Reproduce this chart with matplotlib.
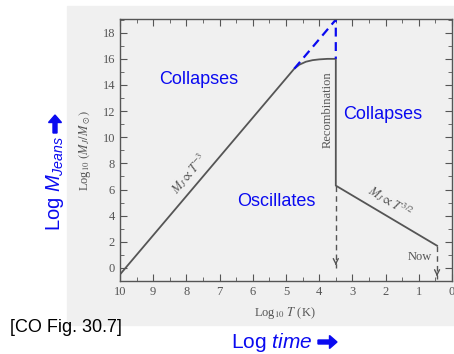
import numpy as np
import matplotlib
matplotlib.use('Agg')
import matplotlib.pyplot as plt
from matplotlib.patches import Rectangle, FancyArrow
from matplotlib.ticker import MultipleLocator

plt.rcParams['mathtext.fontset'] = 'custom'
plt.rcParams['mathtext.rm'] = 'Liberation Sans'
plt.rcParams['mathtext.it'] = 'Liberation Sans:italic'

# curve (log10 T, log10 M_J/M_sun)
curve_T = [10.0, 4.75, 4.6, 4.4, 4.2, 4.0, 3.75, 3.5, 3.5, 0.45]
curve_M = [-0.5, 15.25, 15.55, 15.78, 15.9, 15.96, 16.0, 16.0, 6.3, 1.7]
# blue dashed extension of T^-3 line
ext_T = [4.75, 3.5, 3.5]
ext_M = [15.25, 19.0, 16.0]
# dashed gray arrows (start, end)
rec_T = [3.5, 3.5]
rec_M = [6.3, 0.0]
now_T = [0.45, 0.45]
now_M = [1.7, -0.85]

xticks = [10, 9, 8, 7, 6, 5, 4, 3, 2, 1, 0]
yticks = [0, 2, 4, 6, 8, 10, 12, 14, 16, 18]

gray = '#555555'
blue = '#0a0af0'
serif = 'Liberation Serif'

fig = plt.figure(figsize=(4.54, 3.54), dpi=100)
# scanned page background
bg = Rectangle((67/454, 29/354), 1 - 67/454, 319/354,
               transform=fig.transFigure, color='#f0f0f0', zorder=-5)
fig.add_artist(bg)

ax = fig.add_axes([120/454, 73/354, 332/454, 262/354])
ax.patch.set_alpha(0)
ax.set_zorder(2)

ax.plot(curve_T, curve_M, color=gray, lw=1.3)
ax.plot(ext_T, ext_M, color=blue, lw=1.6, ls=(0, (4, 2.5)))

for tt, mm in [(rec_T, rec_M), (now_T, now_M)]:
    ax.plot(tt, mm, color=gray, lw=1, ls=(0, (4, 3)))
    ax.annotate('', xy=(tt[1], mm[1]), xytext=(tt[1], mm[1] + 0.6),
                arrowprops=dict(arrowstyle='->', color=gray, lw=1, mutation_scale=9))

ax.set_xlim(10, 0)
ax.set_ylim(-1, 19.05)
ax.set_xticks(xticks)
ax.set_yticks(yticks)
ax.xaxis.set_minor_locator(MultipleLocator(0.5))
ax.yaxis.set_minor_locator(MultipleLocator(1))
ax.tick_params(which='both', direction='in', top=True, right=True, color=gray,
               labelcolor=gray, labelsize=9)
ax.tick_params(which='major', length=5)
ax.tick_params(which='minor', length=3)
for lab in ax.get_xticklabels() + ax.get_yticklabels():
    lab.set_fontfamily(serif)
for sp in ax.spines.values():
    sp.set_color(gray)
    sp.set_linewidth(1)

# labels inside the figure
ax.text(3.73, 12.1, 'Recombination', rotation=90, ha='center', va='center',
        color=gray, fontsize=9, family=serif)
ax.text(7.92, 7.25, r'$M_J \propto T^{-3}$', rotation=50, ha='center', va='center',
        color=gray, fontsize=9, family=serif, math_fontfamily='stix')
ax.text(1.87, 5.1, r'$M_J \propto T^{3/2}$', rotation=-31, ha='center', va='center',
        color=gray, fontsize=9, family=serif, math_fontfamily='stix')
ax.text(0.96, 0.84, 'Now', ha='center', va='center', color=gray, fontsize=9, family=serif)

ax.text(7.62, 14.4, 'Collapses', ha='center', va='center', color=blue, fontsize=13,
        family='Liberation Sans')
ax.text(2.08, 11.76, 'Collapses', ha='center', va='center', color=blue, fontsize=13,
        family='Liberation Sans')
ax.text(5.30, 5.1, 'Oscillates', ha='center', va='center', color=blue, fontsize=13,
        family='Liberation Sans')

# axis titles of the scanned plot
fig.text(85/454, 1 - 150/354, r'Log$_{10}$ $(M_J/M_\odot)$', rotation=90, ha='center',
         va='center', color=gray, fontsize=9, family=serif, math_fontfamily='stix')
fig.text(285/454, 1 - 313/354, r'Log$_{10}$ $T$ (K)', ha='center', va='center',
         color=gray, fontsize=9, family=serif, math_fontfamily='stix')

# slide annotations
fig.text(55/454, 1 - 231/354, r'Log $M_{Jeans}$', rotation=90, ha='center', va='bottom',
         color=blue, fontsize=14.5, family='Liberation Sans')
fig.text(312/454, 1 - 342/354, r'Log $time$', ha='right', va='center',
         color=blue, fontsize=15, family='Liberation Sans')
fig.text(10/454, 1 - 328/354, '[CO Fig. 30.7]', ha='left', va='center',
         color='black', fontsize=13, family='Liberation Sans')
# heavy arrows after the slide labels (inches)
fig.add_artist(FancyArrow(3.18, 0.12, 0.19, 0, width=0.04, head_width=0.13,
                          head_length=0.075, length_includes_head=True, color=blue,
                          transform=fig.dpi_scale_trans))
fig.add_artist(FancyArrow(0.55, 2.21, 0, 0.18, width=0.04, head_width=0.13,
                          head_length=0.075, length_includes_head=True, color=blue,
                          transform=fig.dpi_scale_trans))

fig.savefig('out.png', dpi=100)
